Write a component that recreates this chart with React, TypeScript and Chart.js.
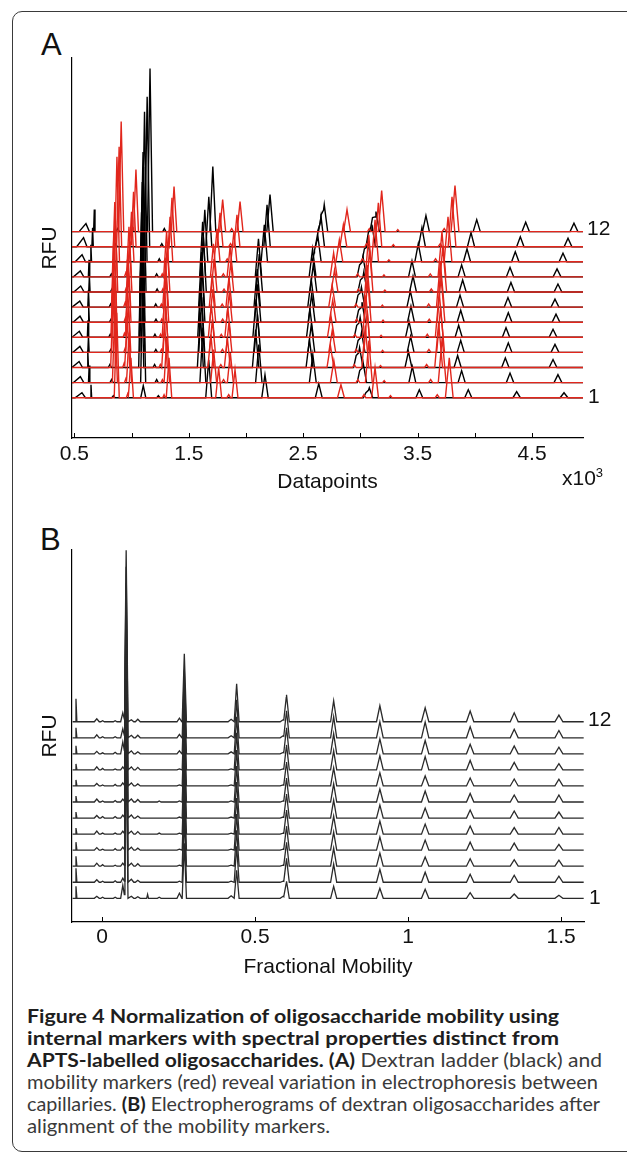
import React, { useEffect, useLayoutEffect, useRef } from "react";
import { Chart, registerables } from "chart.js";

Chart.register(...registerables);

/* ---------------- Panel A : raw electropherograms (datapoints x10^3) ---------------- */
// every array below holds one value per capillary trace, trace 1 (bottom) ... trace 12 (top)
const TRACE_NAMES = ["1", "2", "3", "4", "5", "6", "7", "8", "9", "10", "11", "12"];

const A_X_MIN = 0.479;
const A_X_MAX = 4.946;
const A_X_TICKS = [0.5, 1, 1.5, 2, 2.5, 3, 3.5, 4, 4.5];
const A_X_LABELLED = [0.5, 1.5, 2.5, 3.5, 4.5];

// dextran ladder (black) peaks: apex positions and heights per trace
const A_B01_POS = [0.566, 0.552, 0.541, 0.548, 0.543, 0.549, 0.547, 0.555, 0.552, 0.567, 0.58, 0.601];
const A_B01_H = [5, 6, 6, 6, 6, 6, 6, 6, 6, 7, 9, 8];
const A_B02_POS = [0.645, 0.629, 0.617, 0.623, 0.619, 0.625, 0.623, 0.631, 0.628, 0.644, 0.659, 0.674];
const A_B02_H = [13, 17, 17, 16, 17, 16, 17, 16, 17, 17, 19, 22];
const A_B03_POS = [0.841, 0.825, 0.81, 0.818, 0.813, 0.82, 0.817, 0.828, 0.823, 0.844, 0.86, 0.878];
const A_B03_H = [2, 3, 3, 3, 3, 3, 3, 3, 3, 3, 3, 3];
const A_B04_POS = [1.102, 1.101, 1.084, 1.094, 1.087, 1.095, 1.093, 1.104, 1.1, 1.113, 1.136, 1.161];
const A_B04_H = [12, 125, 125, 125, 125, 125, 125, 125, 125, 150, 150, 163];
const A_B05_POS = [1.234, 1.219, 1.201, 1.212, 1.204, 1.213, 1.211, 1.223, 1.219, 1.242, 1.264, 1.286];
const A_B05_H = [2, 3, 3, 3, 3, 3, 3, 3, 3, 3, 3, 3];
const A_B06_POS = [1.674, 1.623, 1.601, 1.613, 1.604, 1.615, 1.612, 1.627, 1.621, 1.64, 1.675, 1.71];
const A_B06_H = [38, 55, 55, 55, 55, 55, 55, 55, 55, 52, 50, 65];
const A_B07_POS = [2.166, 2.112, 2.084, 2.1, 2.088, 2.102, 2.098, 2.116, 2.109, 2.16, 2.184, 2.21];
const A_B07_H = [23, 38, 38, 38, 38, 38, 38, 38, 38, 37, 42, 37];
const A_B08S_POS = [2.608, 2.556, 2.527, 2.543, 2.531, 2.546, 2.542, 2.561, 2.554, 2.599, 2.628, 2.656];
const A_B08S_H = [0, 0, 0, 0, 0, 0, 0, 0, 0, 10, 14, 15];
const A_B08_POS = [2.636, 2.584, 2.555, 2.571, 2.559, 2.574, 2.57, 2.589, 2.582, 2.627, 2.656, 2.684];
const A_B08_H = [14, 28, 28, 28, 28, 28, 28, 28, 28, 27, 30, 27];
const A_B09S_POS = [3.048, 2.994, 2.963, 2.98, 2.968, 2.984, 2.979, 3.0, 2.993, 3.035, 3.071, 3.106];
const A_B09S_H = [5, 12, 12, 12, 12, 12, 12, 12, 12, 13, 15, 14];
const A_B09_POS = [3.078, 3.024, 2.993, 3.01, 2.998, 3.014, 3.009, 3.03, 3.023, 3.065, 3.101, 3.136];
const A_B09_H = [10, 20, 20, 20, 20, 20, 20, 20, 20, 20, 22, 20];
const A_B10_POS = [3.515, 3.454, 3.42, 3.439, 3.425, 3.442, 3.437, 3.46, 3.451, 3.506, 3.538, 3.573];
const A_B10_H = [8, 16, 16, 16, 16, 16, 16, 16, 16, 18, 19, 16];
const A_B11_POS = [3.943, 3.885, 3.85, 3.877, 3.859, 3.877, 3.871, 3.894, 3.885, 3.932, 3.967, 4.017];
const A_B11_H = [8, 12, 12, 12, 12, 12, 12, 12, 12, 13, 14, 12];
const A_B12_POS = [4.366, 4.308, 4.267, 4.293, 4.273, 4.293, 4.29, 4.316, 4.308, 4.354, 4.398, 4.445];
const A_B12_H = [6, 9.5, 9.5, 9.5, 9.5, 9.5, 9.5, 9.5, 9.5, 10, 10, 9.4];
const A_B13_POS = [4.78, 4.727, 4.684, 4.701, 4.684, 4.71, 4.701, 4.727, 4.719, 4.771, 4.815, 4.867];
const A_B13_H = [5, 8, 8, 8, 8, 8, 8, 8, 8, 8.5, 8.5, 8.4];

// mobility marker (red) peaks
const A_R01_POS = [0.87, 0.854, 0.839, 0.847, 0.841, 0.849, 0.846, 0.857, 0.853, 0.872, 0.891, 0.909];
const A_R01_H = [85, 75, 75, 75, 75, 75, 75, 75, 75, 105, 100, 110];
const A_R02_POS = [0.966, 0.95, 0.934, 0.943, 0.937, 0.945, 0.942, 0.953, 0.949, 0.97, 0.989, 1.008];
const A_R02_H = [4, 4, 4, 4, 4, 4, 4, 4, 4, 4, 4, 4];
const A_R03_POS = [0.994, 0.978, 0.962, 0.971, 0.965, 0.973, 0.97, 0.981, 0.977, 0.999, 1.017, 1.038];
const A_R03_H = [40, 50, 50, 50, 50, 50, 50, 50, 50, 50, 55, 62];
const A_R04_POS = [1.284, 1.269, 1.251, 1.261, 1.253, 1.263, 1.26, 1.273, 1.268, 1.294, 1.316, 1.338];
const A_R04_H = [3, 3, 3, 3, 3, 3, 3, 3, 3, 3, 3, 3];
const A_R05_POS = [1.327, 1.308, 1.288, 1.299, 1.291, 1.301, 1.298, 1.311, 1.306, 1.336, 1.353, 1.371];
const A_R05_H = [40, 45, 45, 45, 45, 45, 45, 45, 45, 45, 49, 45];
const A_R06_POS = [1.761, 1.717, 1.693, 1.706, 1.697, 1.709, 1.705, 1.721, 1.715, 1.747, 1.773, 1.796];
const A_R06_H = [30, 33, 33, 33, 33, 33, 33, 33, 33, 33, 34, 32];
const A_R07_POS = [1.849, 1.804, 1.78, 1.794, 1.784, 1.796, 1.792, 1.808, 1.802, 1.836, 1.865, 1.875];
const A_R07_H = [3, 3, 3, 3, 3, 3, 3, 3, 3, 3, 3, 3];
const A_R08_POS = [1.904, 1.863, 1.837, 1.851, 1.841, 1.854, 1.851, 1.867, 1.861, 1.894, 1.921, 1.948];
const A_R08_H = [28, 30, 30, 30, 30, 30, 30, 30, 30, 30, 32, 30];
const A_R09_POS = [2.83, 2.768, 2.738, 2.754, 2.742, 2.758, 2.753, 2.774, 2.766, 2.816, 2.851, 2.883];
const A_R09_H = [13, 22, 22, 22, 22, 22, 22, 22, 24, 22, 22, 22];
const A_R10_POS = [3.031, 2.978, 2.947, 2.964, 2.952, 2.968, 2.962, 2.983, 2.976, 3.018, 3.055, 3.078];
const A_R10_H = [3, 3, 3, 3, 3, 3, 3, 3, 3, 3, 3, 3];
const A_R11_POS = [3.128, 3.074, 3.043, 3.06, 3.048, 3.064, 3.059, 3.08, 3.073, 3.128, 3.157, 3.186];
const A_R11_H = [30, 42, 42, 42, 42, 42, 42, 42, 42, 42, 44, 41];
const A_R12_POS = [3.263, 3.208, 3.176, 3.194, 3.181, 3.198, 3.192, 3.214, 3.206, 3.249, 3.288, 3.327];
const A_R12_H = [2, 2, 2, 2, 2, 2, 2, 2, 2, 2, 2, 2];
const A_R13_POS = [3.672, 3.614, 3.579, 3.599, 3.585, 3.602, 3.597, 3.62, 3.611, 3.657, 3.698, 3.733];
const A_R13_H = [3, 3, 3, 3, 3, 3, 3, 3, 3, 3, 3, 3];
const A_R14_POS = [3.777, 3.715, 3.684, 3.701, 3.689, 3.705, 3.699, 3.72, 3.713, 3.766, 3.801, 3.827];
const A_R14_H = [40, 45, 45, 45, 45, 45, 45, 45, 45, 45, 50, 46];

/* ---------------- Panel B : aligned electropherograms (fractional mobility) ---------------- */
const B_X_MIN = -0.098;
const B_X_MAX = 1.575;
const B_X_TICKS = [0, 0.5, 1, 1.5];
const B_PEAK_POS = [-0.085, -0.017, 0.002, 0.043, 0.068, 0.079, 0.096, 0.117, 0.149, 0.187, 0.253, 0.269,
  0.422, 0.44, 0.592, 0.603, 0.757, 0.908, 1.056, 1.203, 1.347, 1.493];
const B_PEAK_HALFWIDTH = [0.003, 0.008, 0.006, 0.006, 0.007, 0.006, 0.008, 0.008, 0.003, 0.006, 0.008, 0.007,
  0.01, 0.008, 0.01, 0.009, 0.01, 0.011, 0.012, 0.012, 0.013, 0.013];
// one row per peak, one value per trace (1 ... 12)
const B_PEAK_HEIGHTS = [
  [12, 14, 10, 8, 6, 6, 6, 6, 6, 8, 10, 23],
  [2, 2.5, 3, 2.5, 3, 2.5, 3, 2.5, 3, 2.5, 3, 3],
  [1, 1, 1.5, 1, 1, 1.5, 1, 1, 1.5, 1, 1, 1],
  [1, 1.5, 1, 1.5, 1, 1.5, 1.5, 1.5, 1, 1.5, 1, 1],
  [13, 4, 3, 3, 3, 3, 3, 3, 3, 12, 9, 9],
  [150, 171, 171, 171, 171, 171, 171, 171, 171, 171, 171, 171.5],
  [2, 3, 3, 3, 3, 3, 3, 3, 3, 3, 2.5, 2],
  [1.5, 2, 2.5, 2, 2.5, 2, 2.5, 2, 2.5, 2, 2.5, 2.5],
  [4, 0, 0, 0, 0, 0, 0, 0, 0, 0, 0, 0],
  [1, 0, 0, 0, 1, 0, 1, 0, 0, 0, 0, 0],
  [5, 1, 1, 1, 1, 1, 1, 1, 1, 3, 3.5, 3.5],
  [55, 66, 66, 66, 66, 66, 66, 66, 67, 67, 68, 68],
  [2.5, 1, 1, 1, 1, 1, 1, 1, 1, 2, 2, 2.5],
  [28, 36, 36, 36, 36, 36, 36, 36, 37, 37, 38, 38],
  [2, 1, 1, 1, 1, 1, 1, 1, 1, 1.5, 2, 2],
  [17, 24, 24, 24, 24, 24, 24, 24, 25, 26, 27, 27],
  [12, 18, 18, 18, 18, 18, 18, 18, 19, 20, 21, 21],
  [10, 13, 13, 13, 13, 13, 13, 13, 14, 15, 16, 16],
  [9, 10, 9.3, 10, 10, 10, 11, 10, 13.3, 13.3, 15.7, 14],
  [5.7, 8, 7.5, 8, 8, 8, 8.5, 8, 9.5, 9.5, 11, 10.7],
  [4.3, 7, 6.5, 7, 6.5, 7, 7, 7, 7.5, 8, 8.5, 9],
  [3, 6, 6, 5.7, 6.7, 6, 7, 6.7, 6.3, 6.7, 7.3, 6.7],
];

/* ---------------- helpers ---------------- */
type Peak = { pos: number[] | number; h: number[]; wl: number; wr: number };
const pk = (pos: number[] | number, h: number[], wl: number, wr: number = wl): Peak => ({ pos, h, wl, wr });

const A_BLACK_PEAKS: Peak[] = [
  pk(A_B01_POS, A_B01_H, 0.06, 0.03), pk(A_B02_POS, A_B02_H, 0.006), pk(A_B03_POS, A_B03_H, 0.014),
  pk(A_B04_POS, A_B04_H, 0.022), pk(A_B05_POS, A_B05_H, 0.014), pk(A_B06_POS, A_B06_H, 0.026),
  pk(A_B07_POS, A_B07_H, 0.028), pk(A_B08S_POS, A_B08S_H, 0.022), pk(A_B08_POS, A_B08_H, 0.03),
  pk(A_B09S_POS, A_B09S_H, 0.022), pk(A_B09_POS, A_B09_H, 0.03), pk(A_B10_POS, A_B10_H, 0.03),
  pk(A_B11_POS, A_B11_H, 0.031), pk(A_B12_POS, A_B12_H, 0.032), pk(A_B13_POS, A_B13_H, 0.034),
];
const A_RED_PEAKS: Peak[] = [
  pk(A_R01_POS, A_R01_H, 0.022), pk(A_R02_POS, A_R02_H, 0.012), pk(A_R03_POS, A_R03_H, 0.022),
  pk(A_R04_POS, A_R04_H, 0.012), pk(A_R05_POS, A_R05_H, 0.024), pk(A_R06_POS, A_R06_H, 0.026),
  pk(A_R07_POS, A_R07_H, 0.016), pk(A_R08_POS, A_R08_H, 0.026), pk(A_R09_POS, A_R09_H, 0.03),
  pk(A_R10_POS, A_R10_H, 0.016), pk(A_R11_POS, A_R11_H, 0.03), pk(A_R12_POS, A_R12_H, 0.014),
  pk(A_R13_POS, A_R13_H, 0.018), pk(A_R14_POS, A_R14_H, 0.034),
];
const B_PEAKS: Peak[] = B_PEAK_POS.map((p, i) => pk(p, B_PEAK_HEIGHTS[i], B_PEAK_HALFWIDTH[i]));

function tri(x: number, c: number, h: number, wl: number, wr: number) {
  if (x <= c - wl || x >= c + wr) return 0;
  return x <= c ? (h * (x - (c - wl))) / wl : (h * (c + wr - x)) / wr;
}

function buildTrace(peaks: Peak[], k: number, base: number, xmin: number, xmax: number) {
  const items = peaks
    .filter((p) => p.h[k] > 0)
    .map((p) => ({ c: Array.isArray(p.pos) ? p.pos[k] : p.pos, h: p.h[k], wl: p.wl, wr: p.wr }));
  const xs: number[] = [xmin, xmax];
  items.forEach((t) => xs.push(t.c - t.wl, t.c, t.c + t.wr));
  const uniq = Array.from(new Set(xs.filter((x) => x >= xmin && x <= xmax))).sort((a, b) => a - b);
  return uniq.map((x) => ({ x, y: base + items.reduce((s, t) => s + tri(x, t.c, t.h, t.wl, t.wr), 0) }));
}

const FONT = "'Liberation Sans', Arial, Helvetica, sans-serif";
Chart.defaults.font.family = FONT;

const innerTicks = {
  id: "innerTicks",
  afterDraw(chart: any) {
    const xs = chart.scales.x;
    const ctx = chart.ctx;
    const bottom = chart.chartArea.bottom;
    ctx.save();
    ctx.strokeStyle = "#000";
    ctx.lineWidth = 1;
    xs.ticks.forEach((t: any) => {
      const px = Math.round(xs.getPixelForValue(t.value)) + 0.5;
      ctx.beginPath();
      ctx.moveTo(px, bottom);
      ctx.lineTo(px, bottom - 5);
      ctx.stroke();
    });
    ctx.restore();
  },
};

function traceLabels(bases: number[]) {
  return {
    id: "traceLabels",
    afterDraw(chart: any) {
      const ctx = chart.ctx;
      const ys = chart.scales.y;
      const x = chart.chartArea.right + 4;
      ctx.save();
      ctx.fillStyle = "#111";
      ctx.font = `21px ${FONT}`;
      ctx.textBaseline = "middle";
      ctx.textAlign = "left";
      const last = bases.length - 1;
      ctx.fillText(TRACE_NAMES[last], x, ys.getPixelForValue(bases[last]) - 2);
      ctx.fillText(TRACE_NAMES[0], x + 1, ys.getPixelForValue(bases[0]));
      ctx.restore();
    },
  };
}

function makeConfig(opts: {
  datasets: any[];
  xmin: number;
  xmax: number;
  ymax: number;
  ticks: number[];
  label: (v: number) => string;
  xTitle: string;
  padTop: number;
  padRight: number;
  tickPad: number;
  titlePad: number;
  bases: number[];
}) {
  const axisFont = { family: FONT, size: 21 };
  return {
    type: "line",
    data: { datasets: opts.datasets },
    options: {
      animation: false,
      responsive: false,
      events: [],
      layout: { padding: { left: 0, right: opts.padRight, top: opts.padTop, bottom: 0 } },
      plugins: { legend: { display: false }, tooltip: { enabled: false } },
      elements: { point: { radius: 0 }, line: { tension: 0 } },
      scales: {
        x: {
          type: "linear",
          min: opts.xmin,
          max: opts.xmax,
          afterBuildTicks: (s: any) => {
            s.ticks = opts.ticks.map((v) => ({ value: v }));
          },
          afterFit: (s: any) => {
            s.height = 62;
          },
          grid: { display: false, drawTicks: false },
          border: { display: true, color: "#000", width: 1.2 },
          ticks: {
            padding: opts.tickPad,
            color: "#111",
            font: axisFont,
            maxRotation: 0,
            autoSkip: false,
            callback: (v: any) => opts.label(Number(v)),
          },
          title: { display: true, text: opts.xTitle, color: "#111", font: axisFont, padding: { top: 0, bottom: opts.titlePad } },
        },
        y: {
          type: "linear",
          min: 0,
          max: opts.ymax,
          afterFit: (s: any) => {
            s.width = 72;
          },
          grid: { display: false, drawTicks: false },
          border: { display: true, color: "#000", width: 1.2 },
          ticks: { display: false },
          title: { display: true, text: "RFU", color: "#111", font: axisFont, padding: { top: 37.4, bottom: 0 } },
        },
      },
    },
    plugins: [innerTicks, traceLabels(opts.bases)],
  };
}

const A_BASE0 = 40.3;
const A_GAP = 15.1;
const B_BASE0 = 23.7;
const B_GAP = 16.05;

function buildA() {
  const bases = TRACE_NAMES.map((_, k) => A_BASE0 + k * A_GAP);
  const red: any[] = [];
  const black: any[] = [];
  for (let k = TRACE_NAMES.length - 1; k >= 0; k--) {
    red.push({
      data: buildTrace(A_RED_PEAKS, k, bases[k], A_X_MIN, A_X_MAX),
      borderColor: "#e1261c",
      borderWidth: 1.4,
      pointRadius: 0,
    });
    black.push({
      data: buildTrace(A_BLACK_PEAKS, k, bases[k], A_X_MIN, A_X_MAX),
      borderColor: "#000",
      borderWidth: 1.4,
      pointRadius: 0,
    });
  }
  return makeConfig({
    datasets: [...red, ...black],
    xmin: A_X_MIN,
    xmax: A_X_MAX,
    ymax: 380,
    ticks: A_X_TICKS,
    label: (v) => (A_X_LABELLED.includes(v) ? v.toFixed(1) : ""),
    xTitle: "Datapoints",
    padTop: 58,
    padRight: 44,
    tickPad: 4,
    titlePad: 5.4,
    bases,
  });
}

function buildB() {
  const bases = TRACE_NAMES.map((_, k) => B_BASE0 + k * B_GAP);
  const ds: any[] = [];
  for (let k = TRACE_NAMES.length - 1; k >= 0; k--) {
    ds.push({
      data: buildTrace(B_PEAKS, k, bases[k], -0.096, B_X_MAX - 0.001),
      borderColor: "#2a2a2a",
      borderWidth: 1.3,
      pointRadius: 0,
    });
  }
  return makeConfig({
    datasets: ds,
    xmin: B_X_MIN,
    xmax: B_X_MAX,
    ymax: 372,
    ticks: B_X_TICKS,
    label: (v) => String(v),
    xTitle: "Fractional Mobility",
    padTop: 66,
    padRight: 43,
    tickPad: 3,
    titlePad: 4.4,
    bases,
  });
}

function ChartCanvas({ top, height, build }: { top: number; height: number; build: () => any }) {
  const ref = useRef<HTMLCanvasElement>(null);
  useEffect(() => {
    const chart = new Chart(ref.current as HTMLCanvasElement, build());
    return () => chart.destroy();
  }, []);
  return (
    <canvas
      ref={ref}
      width={627}
      height={height}
      style={{ position: "absolute", left: 0, top, width: 627, height }}
    />
  );
}

/* ---------------- caption ---------------- */
const CAPTION_FONT = "Lato, 'Open Sans', sans-serif";
type Seg = { t: string; b?: boolean };
const CAPTION_LINES: { segs: Seg[]; width: number }[] = [
  { segs: [{ t: "Figure 4 Normalization of oligosaccharide mobility using", b: true }], width: 532 },
  { segs: [{ t: "internal markers with spectral properties distinct from", b: true }], width: 532 },
  { segs: [{ t: "APTS-labelled oligosaccharides. (A)", b: true }, { t: " Dextran ladder (black) and" }], width: 575 },
  { segs: [{ t: "mobility markers (red) reveal variation in electrophoresis between" }], width: 571 },
  { segs: [{ t: "capillaries. " }, { t: "(B)", b: true }, { t: " Electropherograms of dextran oligosaccharides after" }], width: 573 },
  { segs: [{ t: "alignment of the mobility markers." }], width: 303 },
];

function FitLine({ top, width, segs }: { top: number; width: number; segs: Seg[] }) {
  const ref = useRef<HTMLSpanElement>(null);
  useLayoutEffect(() => {
    const fit = () => {
      const el = ref.current;
      if (!el) return;
      el.style.transform = "none";
      const w = el.getBoundingClientRect().width;
      if (w > 0) el.style.transform = `scaleX(${width / w})`;
    };
    fit();
    const fonts = (document as any).fonts;
    if (fonts && fonts.ready) fonts.ready.then(fit);
  });
  return (
    <div
      style={{
        position: "absolute",
        left: 27,
        top,
        height: 22,
        lineHeight: "22px",
        whiteSpace: "nowrap",
        fontFamily: CAPTION_FONT,
        fontSize: 19,
      }}
    >
      <span ref={ref} style={{ display: "inline-block", transformOrigin: "0 50%" }}>
        {segs.map((s, i) => (
          <span key={i} style={{ fontWeight: s.b ? 700 : 400, color: s.b ? "#1e1e1e" : "#3a3a3a" }}>
            {s.t}
          </span>
        ))}
      </span>
    </div>
  );
}

export default function App() {
  return (
    <div
      style={{
        position: "absolute",
        left: 0,
        top: 0,
        width: 627,
        height: 1154,
        overflow: "hidden",
        background: "#fff",
      }}
    >
      <div
        style={{
          position: "absolute",
          left: 12,
          top: 11,
          width: 700,
          height: 1141,
          border: "1.5px solid #3a3a3a",
          borderRadius: 10,
          boxSizing: "border-box",
        }}
      />
      <div style={{ position: "absolute", left: 41, top: 29, font: `31px/31px ${FONT}`, color: "#111" }}>A</div>
      <div style={{ position: "absolute", left: 40, top: 524, font: `31px/31px ${FONT}`, color: "#111" }}>B</div>
      <ChartCanvas top={0} height={500} build={buildA} />
      <ChartCanvas top={484} height={500} build={buildB} />
      <div
        style={{ position: "absolute", left: 562, top: 466, font: `21px/24px ${FONT}`, color: "#111", whiteSpace: "nowrap" }}
      >
        x10<span style={{ fontSize: 13, position: "relative", top: -8 }}>3</span>
      </div>
      {CAPTION_LINES.map((l, i) => (
        <FitLine key={i} top={1005 + i * 22} width={l.width} segs={l.segs} />
      ))}
    </div>
  );
}
